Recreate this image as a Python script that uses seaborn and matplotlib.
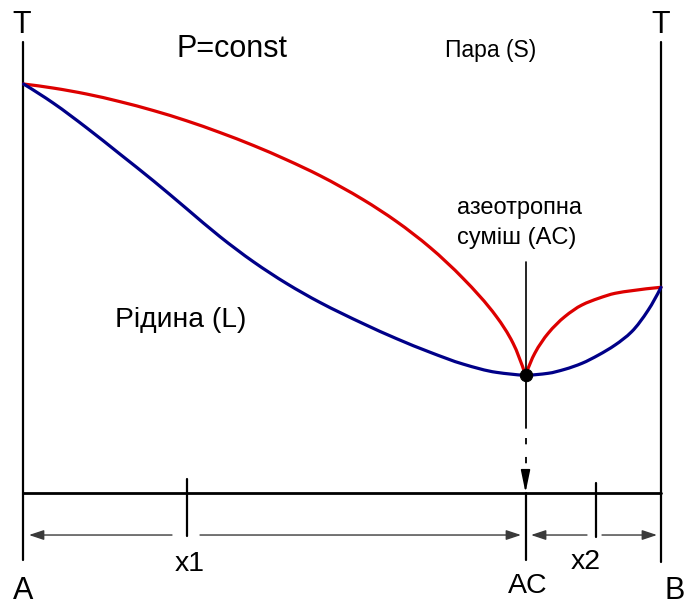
import matplotlib
matplotlib.use("Agg")
import matplotlib.pyplot as plt
from matplotlib.path import Path
from matplotlib.patches import PathPatch
import numpy as np
import seaborn as sns

# Mole fraction of B (x) and temperature (T, arbitrary units; pure A boils at 100)
vapour_left_x = [0.0, 0.047, 0.099, 0.151, 0.204, 0.256, 0.308, 0.361, 0.413,
                 0.465, 0.533, 0.585, 0.638, 0.690, 0.742, 0.768, 0.7875]
vapour_left_T = [100.0, 99.0, 97.55, 95.7, 93.5, 91.0, 88.15, 84.95, 81.45,
                 77.6, 71.7, 66.4, 60.0, 52.4, 43.1, 36.6, 28.8]

liquid_left_x = [0.0, 0.047, 0.099, 0.151, 0.204, 0.256, 0.308, 0.361, 0.413,
                 0.465, 0.533, 0.585, 0.638, 0.690, 0.742, 0.7875]
liquid_left_T = [100.0, 95.3, 89.3, 82.9, 76.3, 69.5, 62.7, 56.5, 51.2,
                 46.6, 41.4, 37.75, 34.4, 31.5, 29.5, 28.8]

vapour_right_x = [0.7875, 0.802, 0.823, 0.849, 0.876, 0.902, 0.928, 0.954, 1.0]
vapour_right_T = [28.8, 34.16, 39.05, 43.11, 45.97, 47.60, 48.83, 49.46, 50.3]

liquid_right_x = [0.7875, 0.823, 0.849, 0.876, 0.902, 0.928, 0.954, 0.980, 1.0]
liquid_right_T = [28.8, 29.27, 30.24, 31.71, 33.74, 36.19, 39.44, 44.74, 50.3]

azeotrope_x = 0.7875
azeotrope_T = 28.8

# Composition marks on the bottom axis
x1_mark = 0.2565
x2_mark = 0.8973

RED = "#dd0000"
BLUE = "#000088"


def pchip_slopes(x, y):
    """Shape-preserving tangents (Fritsch-Carlson) at each node."""
    x = np.asarray(x, float)
    y = np.asarray(y, float)
    h = np.diff(x)
    d = np.diff(y) / h
    m = np.zeros_like(y)
    for k in range(1, len(x) - 1):
        if d[k - 1] * d[k] <= 0:
            m[k] = 0.0
        else:
            w1 = 2 * h[k] + h[k - 1]
            w2 = h[k] + 2 * h[k - 1]
            m[k] = (w1 + w2) / (w1 / d[k - 1] + w2 / d[k])
    m[0] = ((2 * h[0] + h[1]) * d[0] - h[0] * d[1]) / (h[0] + h[1])
    if np.sign(m[0]) != np.sign(d[0]):
        m[0] = 0.0
    m[-1] = ((2 * h[-1] + h[-2]) * d[-1] - h[-1] * d[-2]) / (h[-1] + h[-2])
    if np.sign(m[-1]) != np.sign(d[-1]):
        m[-1] = 0.0
    return m


def smooth_curve(ax, x, y, color):
    """Draw a smooth Bezier path through the given nodes in data coordinates."""
    m = pchip_slopes(x, y)
    verts = [(x[0], y[0])]
    codes = [Path.MOVETO]
    for k in range(len(x) - 1):
        h = x[k + 1] - x[k]
        verts += [(x[k] + h / 3, y[k] + m[k] * h / 3),
                  (x[k + 1] - h / 3, y[k + 1] - m[k + 1] * h / 3),
                  (x[k + 1], y[k + 1])]
        codes += [Path.CURVE4] * 3
    ax.add_patch(PathPatch(Path(verts, codes), fill=False, edgecolor=color,
                           lw=2.3, capstyle="round", joinstyle="round", zorder=3))


sns.set_theme(style="white")
plt.rcParams["font.family"] = ["Liberation Sans", "DejaVu Sans"]

fig = plt.figure(figsize=(6.84, 6.05), dpi=100)
ax = fig.add_axes([0, 0, 1, 1])
ax.set_xlim(-0.03686, 1.03608)
ax.set_ylim(-27.38, 120.54)
ax.axis("off")

smooth_curve(ax, vapour_left_x, vapour_left_T, RED)
smooth_curve(ax, liquid_left_x, liquid_left_T, BLUE)
smooth_curve(ax, vapour_right_x, vapour_right_T, RED)
smooth_curve(ax, liquid_right_x, liquid_right_T, BLUE)

# Frame: two temperature axes and the composition axis
ax.plot([0, 0], [110.3, -16.4], color="black", lw=1.6, zorder=2)
ax.plot([1, 1], [110.3, -16.9], color="black", lw=1.6, zorder=2)
ax.plot([0, 1], [0, 0], color="black", lw=2.0, zorder=2)
ax.plot([x1_mark, x1_mark], [3.4, -10.5], color="black", lw=1.6)
ax.plot([x2_mark, x2_mark], [2.4, -10.8], color="black", lw=1.6)
ax.plot([azeotrope_x, azeotrope_x], [0, -16.4], color="black", lw=1.6)

# Vertical line through the azeotrope and its projection onto the axis
ax.plot([azeotrope_x, azeotrope_x], [56.5, azeotrope_T], color="black", lw=1.2, zorder=4)
ax.plot([azeotrope_x, azeotrope_x], [azeotrope_T, 16.0], color="black", lw=1.3, zorder=4)
ax.plot([azeotrope_x, azeotrope_x], [13.4, 4.8], color="black", lw=1.3,
        linestyle=(0, (3.5, 7)), zorder=4)
ax.annotate("", xy=(azeotrope_x, 0.1), xytext=(azeotrope_x, 5.0),
            arrowprops=dict(arrowstyle="-|>,head_length=1.35,head_width=0.28",
                            color="black", lw=1.2, shrinkA=0, shrinkB=0,
                            mutation_scale=10))

sns.scatterplot(x=[azeotrope_x], y=[azeotrope_T], ax=ax, color="black", s=80,
                edgecolor="black", zorder=5, legend=False)

# Dimension arrows below the axis
dim_T = -10.27
dim_style = dict(arrowstyle="-|>,head_length=0.9,head_width=0.3", color="#3a3a3a",
                 lw=1.0, shrinkA=0, shrinkB=0, mutation_scale=10)
for tip, tail in [(0.0086, 0.2329), (0.7804, 0.2769), (0.7961, 0.8839), (0.9937, 0.9075)]:
    ax.annotate("", xy=(tip, dim_T), xytext=(tail, dim_T), arrowprops=dim_style)


def label(x, t, s, size, ha="center"):
    ax.text(x, t, s, fontsize=size, ha=ha, va="baseline", color="black")


label(-0.0024, 112.5, "T", 22)
label(1.0, 112.5, "T", 22)
label(0.3263, 106.7, "P=const", 22)
label(0.7333, 106.7, "Пара (S)", 16.5)
label(0.6800, 68.3, "азеотропна", 17, ha="left")
label(0.6800, 61.0, "суміш (AC)", 17, ha="left")
label(0.1435, 40.6, "Рідина (L)", 20.3, ha="left")
label(0.2612, -19.1, "x1", 20.5)
label(0.8812, -18.6, "x2", 20.5)
label(0.0, -25.9, "A", 22)
label(0.7914, -24.5, "AC", 20.5)
label(1.0220, -25.9, "B", 22)

fig.savefig("out.png", dpi=100)
